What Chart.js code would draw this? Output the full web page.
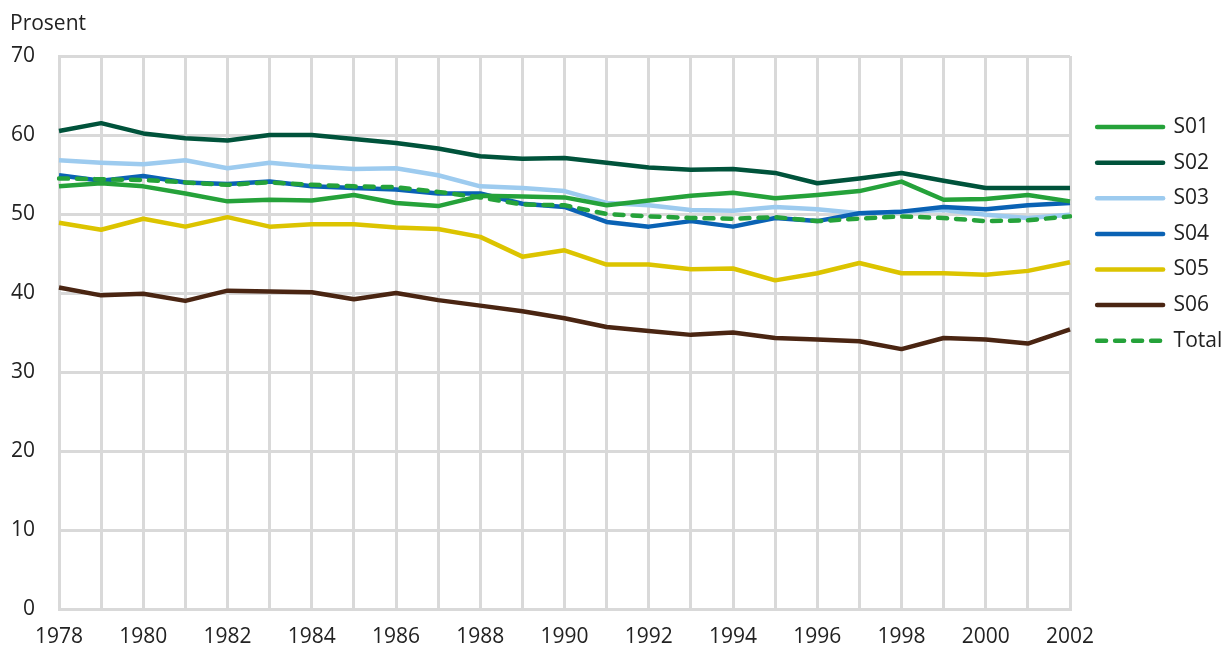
<!DOCTYPE html>
<html>
<head>
<meta charset="utf-8">
<script src="https://cdn.jsdelivr.net/npm/chart.js@4.4.1/dist/chart.umd.min.js"></script>
<style>
  html, body { margin: 0; padding: 0; background: #fff; }
</style>
</head>
<body>
<canvas id="chart" width="1224" height="648"></canvas>
<script>
const years = ['1978','1979','1980','1981','1982','1983','1984','1985','1986','1987','1988','1989','1990',
  '1991','1992','1993','1994','1995','1996','1997','1998','1999','2000','2001','2002'];

const s01 = [53.5, 53.9, 53.5, 52.6, 51.6, 51.8, 51.7, 52.4, 51.4, 51.0, 52.3, 52.2, 52.1, 51.1, 51.7, 52.3, 52.7, 52.0, 52.4, 52.9, 54.1, 51.8, 51.9, 52.4, 51.6];
const s02 = [60.5, 61.5, 60.2, 59.6, 59.3, 60.0, 60.0, 59.5, 59.0, 58.3, 57.3, 57.0, 57.1, 56.5, 55.9, 55.6, 55.7, 55.2, 53.9, 54.5, 55.2, 54.2, 53.3, 53.3, 53.3];
const s03 = [56.8, 56.5, 56.3, 56.8, 55.8, 56.5, 56.0, 55.7, 55.8, 54.9, 53.5, 53.3, 52.9, 51.4, 51.1, 50.5, 50.4, 50.9, 50.6, 50.1, 50.3, 50.5, 49.9, 49.5, 49.9];
const s04 = [54.9, 54.2, 54.8, 54.0, 53.8, 54.1, 53.5, 53.3, 53.1, 52.6, 52.6, 51.3, 50.9, 49.0, 48.4, 49.1, 48.4, 49.5, 49.1, 50.1, 50.3, 50.9, 50.6, 51.1, 51.4];
const s05 = [48.9, 48.0, 49.4, 48.4, 49.6, 48.4, 48.7, 48.7, 48.3, 48.1, 47.1, 44.6, 45.4, 43.6, 43.6, 43.0, 43.1, 41.6, 42.5, 43.8, 42.5, 42.5, 42.3, 42.8, 43.9];
const s06 = [40.7, 39.7, 39.9, 39.0, 40.3, 40.2, 40.1, 39.2, 40.0, 39.1, 38.4, 37.7, 36.8, 35.7, 35.2, 34.7, 35.0, 34.3, 34.1, 33.9, 32.9, 34.3, 34.1, 33.6, 35.4];
const total = [54.5, 54.4, 54.3, 54.0, 53.7, 54.0, 53.7, 53.5, 53.4, 52.8, 52.1, 51.2, 51.1, 50.0, 49.7, 49.5, 49.4, 49.6, 49.1, 49.4, 49.7, 49.5, 49.1, 49.2, 49.7];

const yTicks = [0, 10, 20, 30, 40, 50, 60, 70];

const font = "'Open Sans', 'Noto Sans', sans-serif";
const fontSize = 21;
const textColor = '#222222';
const gridColor = '#d9d9d9';

function line(label, data, color, order, dashed) {
  return {
    label: label,
    data: data,
    borderColor: color,
    backgroundColor: color,
    borderWidth: 4.5,
    borderDash: dashed ? [9, 9] : [],
    borderCapStyle: dashed ? 'round' : 'butt',
    borderJoinStyle: 'round',
    pointRadius: 0,
    pointHoverRadius: 0,
    tension: 0,
    fill: false,
    order: order
  };
}

new Chart(document.getElementById('chart').getContext('2d'), {
  type: 'line',
  data: {
    labels: years,
    datasets: [
      line('S01', s01, '#25a23a', 1),
      line('S02', s02, '#00533b', 4),
      line('S03', s03, '#9dcbef', 3),
      line('S04', s04, '#0a62b4', 2),
      line('S05', s05, '#dcc400', 5),
      line('S06', s06, '#4a2512', 6),
      line('Total', total, '#25a23a', 0, true)
    ]
  },
  options: {
    responsive: false,
    animation: false,
    layout: { padding: { left: 10, right: 0, top: 0, bottom: 0 } },
    plugins: {
      title: {
        display: true,
        text: 'Prosent',
        align: 'start',
        color: textColor,
        font: { family: font, size: fontSize, weight: 'normal', lineHeight: 1.2 },
        padding: { top: 11.4, bottom: 19.4 }
      },
      tooltip: { enabled: false },
      legend: {
        position: 'right',
        align: 'start',
        maxWidth: 141.5,
        title: {
          display: true,
          text: ' ',
          font: { size: 10, lineHeight: 1 },
          padding: { top: 92, bottom: 0 }
        },
        labels: {
          color: textColor,
          font: { family: font, size: fontSize },
          usePointStyle: true,
          pointStyle: 'line',
          boxWidth: 66,
          pointStyleWidth: 66,
          padding: 14.6,
          sort: (a, b) => a.datasetIndex - b.datasetIndex,
          generateLabels: (chart) => Chart.defaults.plugins.legend.labels.generateLabels(chart).map((item) => {
            const ds = chart.data.datasets[item.datasetIndex];
            item.lineDash = ds.borderDash;
            item.lineCap = 'round';
            item.lineWidth = 4.5;
            item.strokeStyle = ds.borderColor;
            return item;
          })
        }
      }
    },
    scales: {
      x: {
        type: 'category',
        offset: false,
        grid: { color: gridColor, lineWidth: 3, drawTicks: false },
        border: { color: gridColor, width: 3 },
        afterFit: (s) => { s.height = 39; },
        ticks: {
          color: textColor,
          font: { family: font, size: fontSize },
          padding: 15,
          autoSkip: false,
          maxRotation: 0,
          callback: function (v, i) { return i % 2 === 0 ? this.getLabelForValue(v) : ''; }
        }
      },
      y: {
        min: yTicks[0],
        max: yTicks[yTicks.length - 1],
        grid: { color: gridColor, lineWidth: 3, drawTicks: false },
        border: { color: gridColor, width: 3 },
        afterFit: (s) => { s.width = 49; },
        afterBuildTicks: (scale) => { scale.ticks = yTicks.map((v) => ({ value: v })); },
        ticks: {
          color: textColor,
          font: { family: font, size: fontSize },
          padding: 24
        }
      },
      // empty spacer between plot and legend
      gap: {
        type: 'linear',
        position: 'right',
        grid: { display: false },
        border: { display: false },
        ticks: { display: false },
        afterFit: (s) => { s.width = 12.5; }
      }
    }
  }
});
</script>
</body>
</html>
